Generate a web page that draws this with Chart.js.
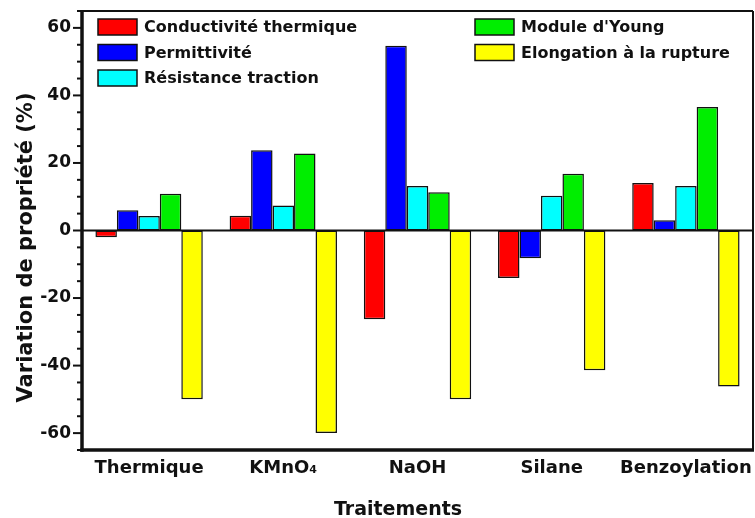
<!DOCTYPE html>
<html>
<head>
<meta charset="utf-8">
<script src="https://cdn.jsdelivr.net/npm/chart.js@4"></script>
<style>
  html, body { margin: 0; padding: 0; background: #fff; }
  #box { width: 755px; height: 518px; }
</style>
</head>
<body>
<div id="box"><canvas id="graphique" width="755" height="518"></canvas></div>
<script>
// données
const traitements = ["Thermique", "KMnO\u2084", "NaOH", "Silane", "Benzoylation"];
const conductivite = [-2, 4.4, -26.3, -14.1, 14.1];
const permittivite = [6, 23.8, 54.7, -8.2, 3.0];
const resistance = [4.3, 7.4, 13.2, 10.3, 13.2];
const moduleYoung = [10.9, 22.8, 11.3, 16.8, 36.6];
const elongation = [-50, -60, -50, -41.4, -46.2];
const etiquettesY = [-60, -40, -20, 0, 20, 40, 60];

const titreX = "Traitements";
const titreY = "Variation de propriété (%)";

const POLICE = "'DejaVu Sans', sans-serif";

function serie(label, data, couleur) {
    return {
        label: label,
        data: data,
        backgroundColor: couleur,
        borderColor: "#111",
        borderWidth: 1.5,
        borderSkipped: false,
        categoryPercentage: 0.8,
        barPercentage: 1.0
    };
}

function trait(ctx, x1, y1, x2, y2) {
    ctx.beginPath();
    ctx.moveTo(x1, y1);
    ctx.lineTo(x2, y2);
    ctx.stroke();
}

// cadre, ligne du zero, graduations, titres et legende en deux colonnes
const cadre = {
    id: "cadre",
    beforeDatasetsDraw(chart) {
        const ctx = chart.ctx, a = chart.chartArea, y = chart.scales.y;
        ctx.save();
        ctx.strokeStyle = "#111";
        ctx.lineWidth = 2;
        const y0 = y.getPixelForValue(0);
        trait(ctx, a.left, y0, a.right, y0);
        ctx.restore();
    },
    afterDatasetsDraw(chart) {
        const ctx = chart.ctx, a = chart.chartArea, y = chart.scales.y;
        ctx.save();
        ctx.strokeStyle = "#111";
        ctx.lineWidth = 2;
        trait(ctx, a.left, a.top, a.right, a.top);
        trait(ctx, a.right, a.top, a.right, a.bottom);
        ctx.lineWidth = 3.5;
        trait(ctx, a.left, a.top - 1, a.left, a.bottom + 1.75);
        trait(ctx, a.left - 1.75, a.bottom, a.right + 1, a.bottom);

        ctx.lineWidth = 2;
        for (const t of y.ticks) {
            const py = y.getPixelForValue(t.value);
            const long = etiquettesY.includes(t.value) ? 9 : 5;
            trait(ctx, a.left - long, py, a.left, py);
        }

        // titres des axes (un peu decentres comme sur l'original)
        ctx.fillStyle = "#111";
        ctx.textAlign = "center";
        ctx.textBaseline = "alphabetic";
        ctx.font = "bold 19px " + POLICE;
        ctx.fillText(titreX, a.left + 316, 515);
        ctx.save();
        ctx.translate(32, a.top + 236.5);
        ctx.rotate(-Math.PI / 2);
        ctx.font = "bold 21px " + POLICE;
        ctx.fillText(titreY, 0, 0);
        ctx.restore();

        // legende
        const colonnes = [[0, 1, 2], [3, 4]];
        const xCol = [a.left + 16, a.left + 393];
        const yLigne = [a.top + 16, a.top + 41.5, a.top + 67];
        ctx.font = "bold 16px " + POLICE;
        ctx.textBaseline = "middle";
        ctx.textAlign = "left";
        colonnes.forEach((col, c) => {
            col.forEach((i, r) => {
                const ds = chart.data.datasets[i];
                const x = xCol[c], yy = yLigne[r];
                ctx.fillStyle = ds.backgroundColor;
                ctx.fillRect(x, yy - 8, 39, 16);
                ctx.lineWidth = 1.5;
                ctx.strokeRect(x, yy - 8, 39, 16);
                ctx.fillStyle = "#111";
                ctx.fillText(ds.label, x + 46, yy + 1);
            });
        });
        ctx.restore();
    }
};

new Chart(document.getElementById("graphique"), {
    type: "bar",
    data: {
        labels: traitements,
        datasets: [
            serie("Conductivité thermique", conductivite, "#ff0000"),
            serie("Permittivité", permittivite, "#0000ff"),
            serie("Résistance traction", resistance, "#00ffff"),
            serie("Module d'Young", moduleYoung, "#00ee00"),
            serie("Elongation à la rupture", elongation, "#ffff00")
        ]
    },
    options: {
        responsive: false,
        animation: false,
        layout: { padding: { top: 11, right: 2, left: 0, bottom: 0 } },
        plugins: {
            legend: { display: false },
            tooltip: { enabled: false }
        },
        scales: {
            x: {
                grid: { display: false, drawTicks: false },
                border: { display: false },
                ticks: {
                    color: "#111",
                    padding: 8,
                    autoSkip: false,
                    maxRotation: 0,
                    minRotation: 0,
                    font: { family: POLICE, size: 18, weight: "bold" }
                },
                afterFit(scale) {
                    scale.height = 68;
                    scale.paddingLeft = 0;
                    scale.paddingRight = 0;
                }
            },
            y: {
                min: -65,
                max: 65,
                grid: { display: false, drawTicks: false },
                border: { display: false },
                ticks: {
                    stepSize: 5,
                    maxTicksLimit: 100,
                    autoSkip: false,
                    padding: 11,
                    color: "#111",
                    font: { family: POLICE, size: 17, weight: "bold" },
                    callback: (v) => etiquettesY.includes(v) ? v : ""
                },
                afterFit(scale) {
                    scale.width = 82;
                    scale.paddingTop = 0;
                    scale.paddingBottom = 0;
                }
            }
        }
    },
    plugins: [cadre]
});
</script>
</body>
</html>
